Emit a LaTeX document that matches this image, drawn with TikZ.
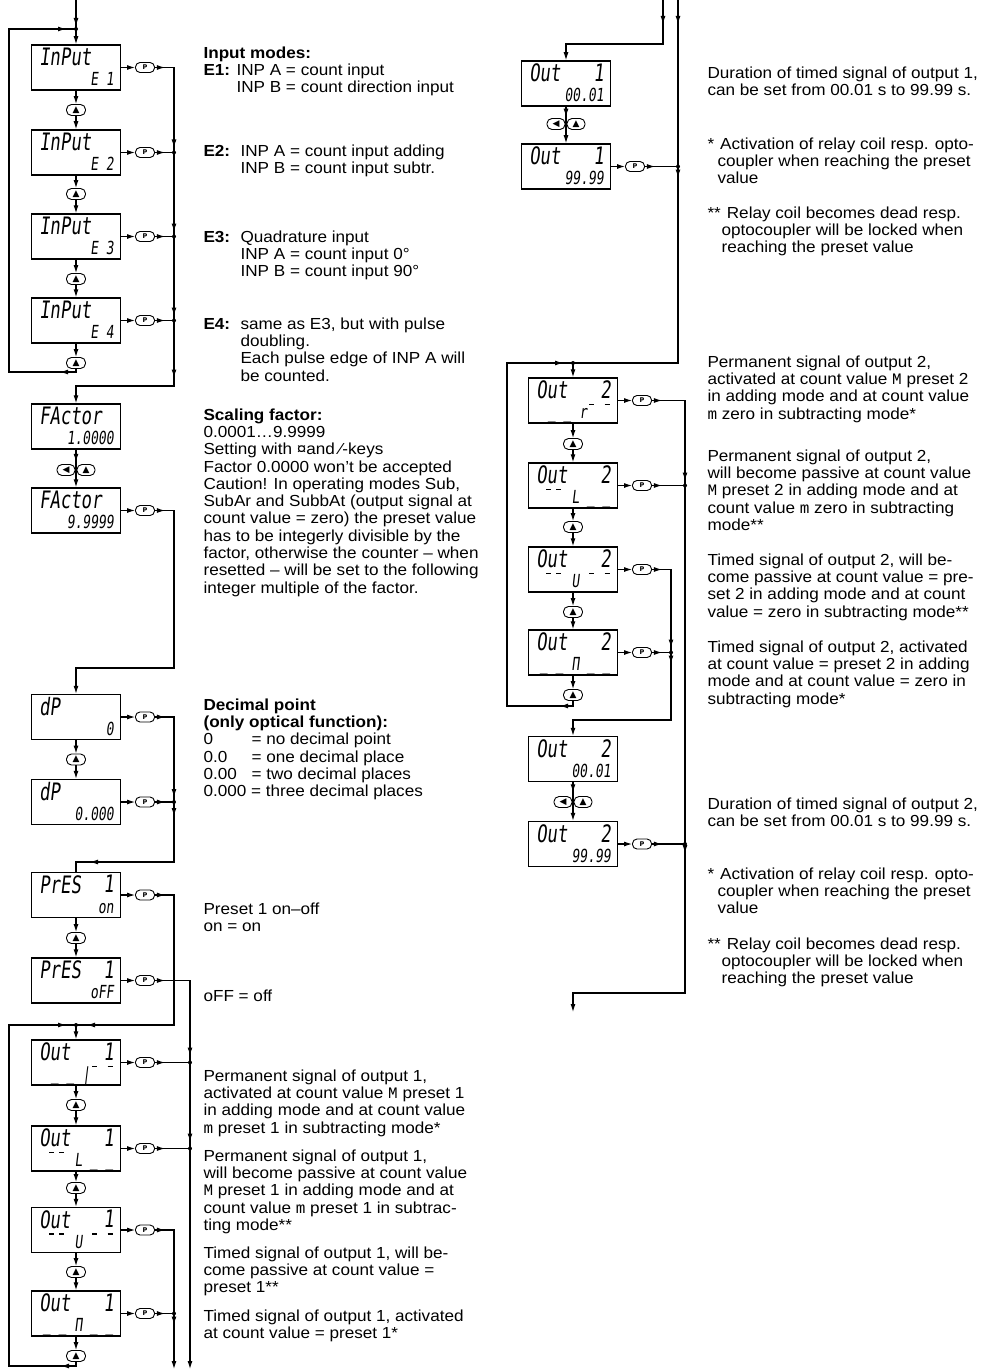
\documentclass[tikz,border=0pt]{standalone}
\usepackage{fontspec}
\setmainfont{Liberation Sans}
\newfontfamily\notefont{Liberation Sans}[FakeStretch=1.07]
\newfontfamily\cntfont{Liberation Mono}
\newfontfamily\lcdfont{DejaVu Sans Mono}[FakeStretch=0.72,FakeSlant=0.12]
\newfontfamily\keyfont{DejaVu Sans}
\newcommand\gap{\hphantom{\_ \_}}
\usetikzlibrary{arrows.meta,decorations.markings}
\tikzstyle{lcd}=[rectangle, draw=black, line width=1.5pt, minimum width=89pt, minimum height=45pt, inner sep=0pt]
\tikzstyle{lcdtop}=[anchor=north west, inner sep=0pt, xshift=8pt, yshift=-3pt, font=\lcdfont\fontsize{24}{24}\selectfont]
\tikzstyle{lcdtopr}=[anchor=north east, inner sep=0pt, xshift=-7pt, yshift=-3pt, font=\lcdfont\fontsize{24}{24}\selectfont]
\tikzstyle{lcdbot}=[anchor=base east, inner sep=0pt, xshift=-7pt, yshift=5pt, font=\lcdfont\fontsize{18}{18}\selectfont]
\tikzstyle{seg}=[line width=1.6pt]
\tikzstyle{pbtn}=[draw=black, fill=white, rounded corners=4.5pt, minimum width=19pt, minimum height=10pt, inner sep=0pt, line width=0.9pt, font=\keyfont\bfseries\fontsize{6.5}{6.5}\selectfont]
\tikzstyle{ubtn}=[draw=black, fill=white, rounded corners=5pt, minimum width=19pt, minimum height=11pt, inner sep=0pt, line width=0.9pt, font=\keyfont\fontsize{9}{9}\selectfont]
\tikzstyle{note}=[anchor=north west, inner sep=0pt, align=left, font=\notefont\fontsize{16}{17.3}\selectfont]
\tikzset{tipmid/.style={postaction={decorate,decoration={markings,mark=at position #1 with {\arrow{>}}}}}}

\begin{document}
\begin{tikzpicture}[x=1pt, y=-1pt, line width=1.1pt, >={Latex[length=8pt,width=5pt]}]
\useasboundingbox (0,0) rectangle (981,1370);

% input modes
\node[lcd, label={[lcdtop]north west:InPut}, label={[lcdbot]south east:E 1}] (in1) at (76,67.5) {};
\node[lcd, label={[lcdtop]north west:InPut}, label={[lcdbot]south east:E 2}] (in2) at (76,152.5) {};
\node[lcd, label={[lcdtop]north west:InPut}, label={[lcdbot]south east:E 3}] (in3) at (76,236.5) {};
\node[lcd, label={[lcdtop]north west:InPut}, label={[lcdbot]south east:E 4}] (in4) at (76,320.5) {};
\node[ubtn] (ui1) at (76,110) {▲};
\node[ubtn] (ui2) at (76,194) {▲};
\node[ubtn] (ui3) at (76,279) {▲};
\node[ubtn] (ui4) at (76,363) {▲};
\node[pbtn] (pi1) at (145,67.5) {P};
\node[pbtn] (pi2) at (145,152.5) {P};
\node[pbtn] (pi3) at (145,236.5) {P};
\node[pbtn] (pi4) at (145,320.5) {P};
\coordinate (tin) at (76,0);
\coordinate (jin) at (76,29);
\coordinate (bi2) at (174,152.5);
\coordinate (bi3) at (174,236.5);
\coordinate (bi4) at (174,320.5);
\draw[tipmid=-3pt] (tin) -- (jin);
\draw[->] (jin) -- (in1);
\draw[tipmid=19pt, tipmid=-10pt] (ui4) |- (9,372) |- (jin);
\draw[->] (in1) -- (ui1); \draw[->] (ui1) -- (in2);
\draw[->] (in2) -- (ui2); \draw[->] (ui2) -- (in3);
\draw[->] (in3) -- (ui3); \draw[->] (ui3) -- (in4);
\draw[->] (in4) -- (ui4);
\foreach \k in {1,...,4} \draw[->] (in\k) -- (pi\k);
\draw[tipmid=10pt, tipmid=-5pt] (pi1) -| (bi2);
\draw[tipmid=10pt] (pi2) -- (bi2);
\draw[tipmid=10pt] (pi3) -- (bi3);
\draw[tipmid=10pt] (pi4) -- (bi4);
\draw[tipmid=-5pt] (bi2) -- (bi3);
\draw[tipmid=-5pt] (bi3) -- (bi4);
\foreach \j in {jin,bi2,bi3,bi4} \fill (\j) circle (2);

% factor
\node[lcd, label={[lcdtop]north west:FActor}, label={[lcdbot]south east:1.0000}] (fa1) at (76,426.5) {};
\node[lcd, label={[lcdtop]north west:FActor}, label={[lcdbot]south east:9.9999}] (fa2) at (76,510.5) {};
\node[ubtn, minimum width=18pt] (fl) at (66,470) {◀};
\node[ubtn, minimum width=18pt] (fu) at (86,470) {▲};
\node[pbtn] (pf) at (145,510.5) {P};
\draw[->, tipmid=57pt] (bi4) |- (76,386) -- (fa1);
\draw[->, tipmid=12pt] (fa1) -- (fa2);
\draw[->] (fa2) -- (pf);

% decimal point
\node[lcd, label={[lcdtop]north west:dP}, label={[lcdbot]south east:0}] (dp1) at (76,717) {};
\node[lcd, label={[lcdtop]north west:dP}, label={[lcdbot]south east:0.000}] (dp2) at (76,802) {};
\node[ubtn] (ud) at (76,759.5) {▲};
\node[pbtn] (pd1) at (145,717) {P};
\node[pbtn] (pd2) at (145,802) {P};
\coordinate (bd) at (174,802);
\draw[->, tipmid=10pt] (pf) -| (174,668) -| (dp1);
\draw[->] (dp1) -- (ud); \draw[->] (ud) -- (dp2);
\draw[->] (dp1) -- (pd1); \draw[->] (dp2) -- (pd2);
\draw[tipmid=10pt, tipmid=-5pt] (pd1) -| (bd);
\draw[tipmid=10pt] (pd2) -- (bd);
\fill (bd) circle (2);

% preset 1
\node[lcd, label={[lcdtop]north west:PrES}, label={[lcdtopr]north east:1}, label={[lcdbot]south east:on}] (pr1) at (76,895) {};
\node[lcd, label={[lcdtop]north west:PrES}, label={[lcdtopr]north east:1}, label={[lcdbot]south east:oFF}] (pr2) at (76,980.5) {};
\node[ubtn] (up) at (76,938) {▲};
\node[pbtn] (pp1) at (145,895) {P};
\node[pbtn] (pp2) at (145,980.5) {P};
\coordinate (jo1) at (76,1025);
\coordinate (bo1) at (190,1062.5);
\coordinate (bo2) at (190,1148.5);
\coordinate (bo4) at (174,1313.5);
\coordinate (eo1) at (190,1369);
\coordinate (eo2) at (174,1369);
\draw[tipmid=14pt, tipmid=144pt] (bd) |- (76,862) -- (pr1);
\draw[->] (pr1) -- (up); \draw[->] (up) -- (pr2);
\draw[->] (pr1) -- (pp1); \draw[->] (pr2) -- (pp2);
\draw[tipmid=10pt, tipmid=-11pt] (pp1) -| (174,1025) -- (jo1);
\draw[tipmid=10pt, tipmid=-7pt] (pp2) -| (bo1);

% output 1 modes
\node[lcd, label={[lcdtop]north west:Out}, label={[lcdtopr]north east:1}, label={[lcdbot]south east:\_ \_ |\gap}] (o1a) at (76,1062.5) {};
\node[lcd, label={[lcdtop]north west:Out}, label={[lcdtopr]north east:1}, label={[lcdbot]south east:\hphantom{\_\_} L \_ \_}] (o1b) at (76,1148.5) {};
\node[lcd, label={[lcdtop]north west:Out}, label={[lcdtopr]north east:1}, label={[lcdbot]south east:\hphantom{\_\_} U \gap}] (o1c) at (76,1230) {};
\node[lcd, label={[lcdtop]north west:Out}, label={[lcdtopr]north east:1}, label={[lcdbot]south east:\_ \_ Π \_ \_}] (o1d) at (76,1313.5) {};
\node[ubtn] (uo1) at (76,1105) {▲};
\node[ubtn] (uo2) at (76,1188) {▲};
\node[ubtn] (uo3) at (76,1272) {▲};
\node[ubtn] (uo4) at (76,1356) {▲};
\node[pbtn] (po1) at (145,1062.5) {P};
\node[pbtn] (po2) at (145,1148.5) {P};
\node[pbtn] (po3) at (145,1230) {P};
\node[pbtn] (po4) at (145,1313.5) {P};
\draw[->] (jo1) -- (o1a);
\draw[tipmid=19pt, tipmid=-10pt] (uo4) |- (9,1366) |- (jo1);
\draw[->] (o1a) -- (uo1); \draw[->] (uo1) -- (o1b);
\draw[->] (o1b) -- (uo2); \draw[->] (uo2) -- (o1c);
\draw[->] (o1c) -- (uo3); \draw[->] (uo3) -- (o1d);
\draw[->] (o1d) -- (uo4);
\draw[->] (o1a) -- (po1); \draw[->] (o1b) -- (po2);
\draw[->] (o1c) -- (po3); \draw[->] (o1d) -- (po4);
\draw[tipmid=10pt] (po1) -- (bo1);
\draw[tipmid=10pt] (po2) -- (bo2);
\draw[tipmid=10pt] (po3) -| (bo4);
\draw[tipmid=10pt] (po4) -- (bo4);
\draw[tipmid=-7pt] (bo1) -- (bo2);
\draw[->] (bo2) -- (eo1);
\draw[->, tipmid=11pt] (bo4) -- (eo2);
\foreach \j in {jo1,bo1,bo2,bo4} \fill (\j) circle (2);

% output 1 time
\coordinate (ta) at (663,0);
\coordinate (tb) at (678,0);
\coordinate (bt) at (678,166.5);
\coordinate (j3) at (573,363);
\node[lcd, label={[lcdtop]north west:Out}, label={[lcdtopr]north east:1}, label={[lcdbot]south east:00.01}] (t1a) at (566,83.5) {};
\node[lcd, label={[lcdtop]north west:Out}, label={[lcdtopr]north east:1}, label={[lcdbot]south east:99.99}] (t1b) at (566,166.5) {};
\node[ubtn, minimum width=18pt] (tl) at (556,124) {◀};
\node[ubtn, minimum width=18pt] (tu) at (576,124) {▲};
\node[pbtn] (pt) at (635,166.5) {P};
\draw[->, tipmid=24pt] (ta) |- (566,44) -- (t1a);
\draw[tipmid=24pt] (tb) -- (bt);
\draw[->, tipmid=10pt] (t1a) -- (t1b);
\draw[->] (t1b) -- (pt);
\draw[tipmid=10pt] (pt) -- (bt);
\draw[tipmid=11pt] (bt) |- (j3);

% output 2 modes
\node[lcd, label={[lcdtop]north west:Out}, label={[lcdtopr]north east:2}, label={[lcdbot]south east:\_ \_ r\gap}] (o2a) at (573,400.5) {};
\node[lcd, label={[lcdtop]north west:Out}, label={[lcdtopr]north east:2}, label={[lcdbot]south east:\hphantom{\_\_} L \_ \_}] (o2b) at (573,485.5) {};
\node[lcd, label={[lcdtop]north west:Out}, label={[lcdtopr]north east:2}, label={[lcdbot]south east:\hphantom{\_\_} U \gap}] (o2c) at (573,569.5) {};
\node[lcd, label={[lcdtop]north west:Out}, label={[lcdtopr]north east:2}, label={[lcdbot]south east:\_ \_ Π \_ \_}] (o2d) at (573,652.5) {};
\node[ubtn] (uo5) at (573,444) {▲};
\node[ubtn] (uo6) at (573,527) {▲};
\node[ubtn] (uo7) at (573,612) {▲};
\node[ubtn] (uo8) at (573,695) {▲};
\node[pbtn] (q1) at (642,400.5) {P};
\node[pbtn] (q2) at (642,485.5) {P};
\node[pbtn] (q3) at (642,569.5) {P};
\node[pbtn] (q4) at (642,652.5) {P};
\coordinate (bq2) at (685,485.5);
\coordinate (bq4) at (671,652.5);
\coordinate (bq6) at (685,844);
\coordinate (eq) at (573,1012);
\draw[->] (j3) -- (o2a);
\draw[tipmid=18pt, tipmid=-10pt] (uo8) |- (507,706) |- (j3);
\draw[->] (o2a) -- (uo5); \draw[->] (uo5) -- (o2b);
\draw[->] (o2b) -- (uo6); \draw[->] (uo6) -- (o2c);
\draw[->] (o2c) -- (uo7); \draw[->] (uo7) -- (o2d);
\draw[->] (o2d) -- (uo8);
\draw[->] (o2a) -- (q1); \draw[->] (o2b) -- (q2);
\draw[->] (o2c) -- (q3); \draw[->] (o2d) -- (q4);
\draw[tipmid=10pt, tipmid=-5pt] (q1) -| (bq2);
\draw[tipmid=10pt] (q2) -- (bq2);
\draw[tipmid=10pt, tipmid=-5pt] (q3) -| (bq4);
\draw[tipmid=10pt] (q4) -- (bq4);
\draw (bq2) -- (bq6);

% upper segments of the edge displays
\foreach \b/\dx in {o1a/16, o1a/31.6, o1b/-27, o1b/-17, o1c/-27, o1c/-17, o1c/16, o1c/31.6,
  o2a/16, o2a/31.6, o2b/-27, o2b/-17, o2c/-27, o2c/-17, o2c/16, o2c/31.6}
  \draw[seg] ([shift={(\dx,4)}]\b.center) -- ++(5,0);

% output 2 time
\node[lcd, label={[lcdtop]north west:Out}, label={[lcdtopr]north east:2}, label={[lcdbot]south east:00.01}] (t2a) at (573,759) {};
\node[lcd, label={[lcdtop]north west:Out}, label={[lcdtopr]north east:2}, label={[lcdbot]south east:99.99}] (t2b) at (573,844) {};
\node[ubtn, minimum width=18pt] (tl2) at (563,802) {◀};
\node[ubtn, minimum width=18pt] (tu2) at (583,802) {▲};
\node[pbtn] (q5) at (642,844) {P};
\draw[->, tipmid=11pt] (bq4) |- (573,720) -- (t2a);
\draw[->, tipmid=10pt] (t2a) -- (t2b);
\draw[->] (t2b) -- (q5);
\draw[tipmid=10pt] (q5) -- (bq6);
\draw[->, tipmid=9pt] (bq6) |- (573,993) -- (eq);
\foreach \j in {bt,j3,bq2,bq4,bq6} \fill (\j) circle (2);

% texts left
\node[note] (n1) at (203,46) {\textbf{Input modes:}\\\textbf{E1:} INP A = count input\\\hphantom{\textbf{E1:} }INP B = count direction input};
\node[note] (n2) at (203,144) {\makebox[37pt][l]{\textbf{E2:}}INP A = count input adding\\\hspace*{37pt}INP B = count input subtr.};
\node[note] (n3) at (203,230) {\makebox[37pt][l]{\textbf{E3:}}Quadrature input\\\hspace*{37pt}INP A = count input 0°\\\hspace*{37pt}INP B = count input 90°};
\node[note] (n4) at (203,317) {\makebox[37pt][l]{\textbf{E4:}}same as E3, but with pulse\\\hspace*{37pt}doubling.\\\hspace*{37pt}Each pulse edge of INP A will\\\hspace*{37pt}be counted.};
\node[note] (n5) at (203,408) {\textbf{Scaling factor:}\\0.0001…9.9999\\Setting with ¤and ⁄-keys\\Factor 0.0000 won’t be accepted\\Caution! In operating modes Sub,\\SubAr and SubbAt (output signal at\\count value = zero) the preset value\\has to be integerly divisible by the\\factor, otherwise the counter – when\\resetted – will be set to the following\\integer multiple of the factor.};
\node[note] (n6) at (203,698) {\textbf{Decimal point}\\\textbf{(only optical function):}\\\makebox[48pt][l]{0}= no decimal point\\\makebox[48pt][l]{0.0}= one decimal place\\\makebox[48pt][l]{0.00}= two decimal places\\0.000 = three decimal places};
\node[note] (n7) at (203,902) {Preset 1 on–off\\on = on};
\node[note] (n8) at (203,989) {oFF = off};
\node[note] (n9) at (203,1069) {Permanent signal of output 1,\\activated at count value {\cntfont M} preset 1\\in adding mode and at count value\\{\cntfont m} preset 1 in subtracting mode*};
\node[note] (n10) at (203,1149) {Permanent signal of output 1,\\will become passive at count value\\{\cntfont M} preset 1 in adding mode and at\\count value {\cntfont m} preset 1 in subtrac-\\ting mode**};
\node[note] (n11) at (203,1246) {Timed signal of output 1, will be-\\come passive at count value =\\preset 1**};
\node[note] (n12) at (203,1309) {Timed signal of output 1, activated\\at count value = preset 1*};

% texts right
\node[note] (m1) at (707,66) {Duration of timed signal of output 1,\\can be set from 00.01 s to 99.99 s.};
\node[note] (m2) at (707,137) {*\hspace{6pt}Activation of relay coil resp. opto-\\\hspace*{10pt}coupler when reaching the preset\\\hspace*{10pt}value};
\node[note] (m3) at (707,206) {**\hspace{6pt}Relay coil becomes dead resp.\\\hspace*{14pt}optocoupler will be locked when\\\hspace*{14pt}reaching the preset value};
\node[note] (m4) at (707,355) {Permanent signal of output 2,\\activated at count value {\cntfont M} preset 2\\in adding mode and at count value\\{\cntfont m} zero in subtracting mode*};
\node[note] (m5) at (707,449) {Permanent signal of output 2,\\will become passive at count value\\{\cntfont M} preset 2 in adding mode and at\\count value {\cntfont m} zero in subtracting\\mode**};
\node[note] (m6) at (707,553) {Timed signal of output 2, will be-\\come passive at count value = pre-\\set 2 in adding mode and at count\\value = zero in subtracting mode**};
\node[note] (m7) at (707,640) {Timed signal of output 2, activated\\at count value = preset 2 in adding\\mode and at count value = zero in\\subtracting mode*};
\node[note] (m8) at (707,797) {Duration of timed signal of output 2,\\can be set from 00.01 s to 99.99 s.};
\node[note] (m9) at (707,867) {*\hspace{6pt}Activation of relay coil resp. opto-\\\hspace*{10pt}coupler when reaching the preset\\\hspace*{10pt}value};
\node[note] (m10) at (707,937) {**\hspace{6pt}Relay coil becomes dead resp.\\\hspace*{14pt}optocoupler will be locked when\\\hspace*{14pt}reaching the preset value};
\end{tikzpicture}
\end{document}
